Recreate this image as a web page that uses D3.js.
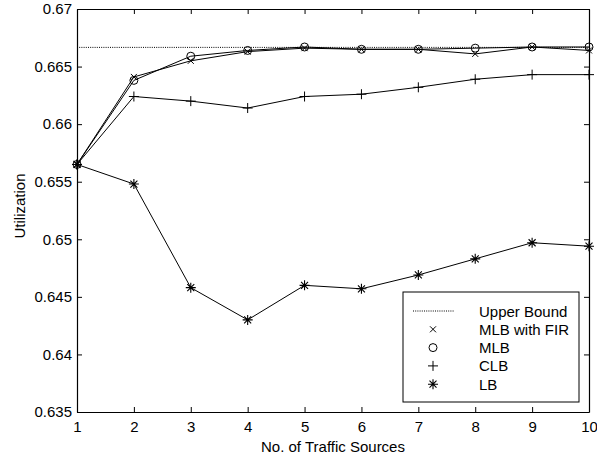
<!DOCTYPE html>
<html>
<head>
<meta charset="utf-8">
<script src="https://cdn.jsdelivr.net/npm/d3@7"></script>
<style>
  html, body { margin: 0; padding: 0; background: #fff; }
  svg { display: block; font-family: "Liberation Sans", Arial, sans-serif; }
</style>
</head>
<body>
<svg id="chart" width="597" height="462"></svg>
<script>
// Number of traffic sources
const sources = [1, 2, 3, 4, 5, 6, 7, 8, 9, 10];
// Theoretical upper bound on utilization
const upperBound = 2 / 3;
// Utilization per algorithm
const mlbFir = [0.6565, 0.6641, 0.6655, 0.6663, 0.6666, 0.6665, 0.6665, 0.6661, 0.6667, 0.6664];
const mlb    = [0.6565, 0.6638, 0.6659, 0.6664, 0.6667, 0.6665, 0.6665, 0.6666, 0.6667, 0.6667];
const clb    = [0.6565, 0.6624, 0.6620, 0.6614, 0.6624, 0.6626, 0.6632, 0.6639, 0.6643, 0.6643];
const lb     = [0.6565, 0.6548, 0.6458, 0.6430, 0.6460, 0.6457, 0.6469, 0.6483, 0.6497, 0.6494];
// Axis ticks
const xTicks = [1, 2, 3, 4, 5, 6, 7, 8, 9, 10];
const yTicks = [0.635, 0.64, 0.645, 0.65, 0.655, 0.66, 0.665, 0.67];
const legendLabels = ["Upper Bound", "MLB with FIR", "MLB", "CLB", "LB"];

const svg = d3.select("#chart");
const margin = { left: 77, right: 8, top: 9, bottom: 50 };
const W = 597, H = 462;
const x = d3.scaleLinear().domain([1, 10]).range([margin.left, W - margin.right]);
const y = d3.scaleLinear().domain([0.635, 0.67]).range([H - margin.bottom, margin.top]);

const ink = "#000";
const fontSize = 15;

// Marker shapes
function marker(g, kind, cx, cy) {
  if (kind === "x") {
    const s = 3;
    g.append("path").attr("d", `M${cx - s},${cy - s}L${cx + s},${cy + s}M${cx - s},${cy + s}L${cx + s},${cy - s}`)
      .attr("stroke", ink).attr("stroke-width", 1).attr("fill", "none");
  } else if (kind === "o") {
    g.append("circle").attr("cx", cx).attr("cy", cy).attr("r", 4)
      .attr("stroke", ink).attr("stroke-width", 1).attr("fill", "none");
  } else if (kind === "+") {
    const s = 5;
    g.append("path").attr("d", `M${cx - s},${cy}L${cx + s},${cy}M${cx},${cy - s}L${cx},${cy + s}`)
      .attr("stroke", ink).attr("stroke-width", 1).attr("fill", "none");
  } else if (kind === "*") {
    const s = 5, d = 3.5;
    g.append("path").attr("d",
      `M${cx - s},${cy}L${cx + s},${cy}M${cx},${cy - s}L${cx},${cy + s}` +
      `M${cx - d},${cy - d}L${cx + d},${cy + d}M${cx - d},${cy + d}L${cx + d},${cy - d}`)
      .attr("stroke", ink).attr("stroke-width", 1.1).attr("fill", "none");
  }
}

// Axes box with inward ticks on all four sides
const tickLen = 5;
const axes = svg.append("g");
const bottomAxis = d3.axisBottom(x).tickValues(xTicks).tickSizeInner(-tickLen).tickSizeOuter(0).tickPadding(9).tickFormat(d3.format("d"));
const topAxis = d3.axisTop(x).tickValues(xTicks).tickSizeInner(-tickLen).tickSizeOuter(0).tickFormat("");
const leftAxis = d3.axisLeft(y).tickValues(yTicks).tickSizeInner(-tickLen).tickSizeOuter(0).tickPadding(5).tickFormat(d => d3.format("")(+d.toFixed(3)));
const rightAxis = d3.axisRight(y).tickValues(yTicks).tickSizeInner(-tickLen).tickSizeOuter(0).tickFormat("");

axes.append("g").attr("transform", `translate(0,${y.range()[0]})`).call(bottomAxis);
axes.append("g").attr("transform", `translate(0,${y.range()[1]})`).call(topAxis);
axes.append("g").attr("transform", `translate(${x.range()[0]},0)`).call(leftAxis);
axes.append("g").attr("transform", `translate(${x.range()[1]},0)`).call(rightAxis);
axes.selectAll(".domain").attr("stroke", ink).attr("stroke-width", 1.2);
axes.selectAll(".tick line").attr("stroke", ink);
axes.selectAll(".tick text").attr("fill", ink).attr("font-size", fontSize)
  .attr("font-family", "'Liberation Sans', Arial, sans-serif");

// Upper bound
svg.append("line")
  .attr("x1", x(1)).attr("x2", x(10)).attr("y1", y(upperBound)).attr("y2", y(upperBound))
  .attr("stroke", ink).attr("stroke-width", 1).attr("stroke-dasharray", "1,1.2");

const line = d3.line().x((d, i) => x(sources[i])).y(d => y(d));
const series = [
  { values: lb, kind: "*" },
  { values: clb, kind: "+" },
  { values: mlb, kind: "o" },
  { values: mlbFir, kind: "x" }
];
series.forEach(s => {
  svg.append("path").attr("d", line(s.values)).attr("fill", "none")
    .attr("stroke", ink).attr("stroke-width", 1);
  const g = svg.append("g");
  s.values.forEach((v, i) => marker(g, s.kind, x(sources[i]), y(v)));
});

// Axis titles
svg.append("text").attr("x", 333).attr("y", 451.5)
  .attr("text-anchor", "middle").attr("font-size", fontSize).attr("fill", ink)
  .text("No. of Traffic Sources");
svg.append("text").attr("transform", `translate(24.5,206) rotate(-90)`)
  .attr("text-anchor", "middle").attr("font-size", fontSize).attr("fill", ink)
  .text("Utilization");

// Legend
const lg = svg.append("g");
const lx = 403, ly = 292, lw = 176, lh = 110;
lg.append("rect").attr("x", lx).attr("y", ly).attr("width", lw).attr("height", lh)
  .attr("fill", "#fff").attr("stroke", ink).attr("stroke-width", 1);
const kinds = [null, "x", "o", "+", "*"];
legendLabels.forEach((t, i) => {
  const cy = ly + 19 + i * 18.3;
  if (i === 0) {
    lg.append("line").attr("x1", lx + 10).attr("x2", lx + 51).attr("y1", cy).attr("y2", cy)
      .attr("stroke", ink).attr("stroke-width", 1).attr("stroke-dasharray", "1,1.2");
  } else {
    marker(lg, kinds[i], lx + 30, cy);
  }
  lg.append("text").attr("x", lx + 76).attr("y", cy + 5.5).attr("font-size", fontSize)
    .attr("fill", ink).text(t);
});
</script>
</body>
</html>
